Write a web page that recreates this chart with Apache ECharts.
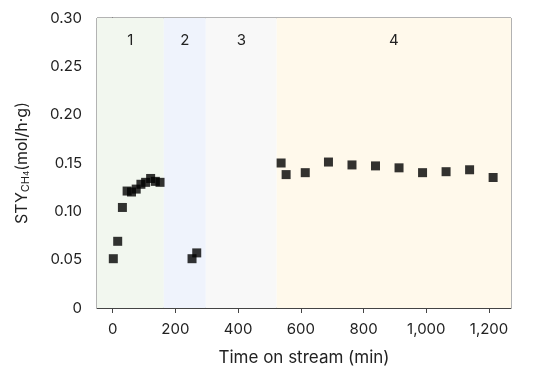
<!DOCTYPE html>
<html><head><meta charset="utf-8">
<script src="https://cdn.jsdelivr.net/npm/echarts@6/dist/echarts.min.js"></script>
<style>html,body{margin:0;padding:0;background:#fff}#c{width:542px;height:371px}</style>
</head><body><div id="c"></div>
<script>
const timeMin = [2,16,31,46,60,75,90,105,121,136,151,253,268,537,553,614,688,763,838,913,988,1063,1138,1213];
const styValues = [0.051,0.069,0.104,0.121,0.120,0.123,0.128,0.130,0.134,0.131,0.130,0.051,0.057,0.150,0.138,0.140,0.151,0.148,0.147,0.145,0.140,0.141,0.143,0.135];
const regionNames = ['1','2','3','4'];
const regionBounds = [[-50,163],[163,297],[297,523],[523,1270]];
const regionColors = ['#f2f7ef','#eff3fc','#f8f8f8','#fff9eb'];
const xTicks = [0,200,400,600,800,1000,1200];

const FONT = 'Inter';
const chart = echarts.init(document.getElementById('c'), null, {renderer:'canvas'});
chart.setOption({
  animation:false,
  grid:{left:97,right:31,top:18,bottom:61,show:true,borderColor:'#666',borderWidth:1,backgroundColor:'transparent'},
  xAxis:{
    type:'value',min:-50,max:1270,
    name:'Time on stream (min)',nameLocation:'middle',nameGap:41,
    nameTextStyle:{fontFamily:FONT,fontSize:17,color:'#222'},
    axisLine:{show:true,onZero:false,lineStyle:{color:'#444'}},
    axisTick:{show:true,length:5,customValues:xTicks,lineStyle:{color:'#444'}},
    axisLabel:{customValues:xTicks,margin:14,fontFamily:FONT,fontSize:15,color:'#222',
      formatter:v=>Number(v).toLocaleString('en-US')},
    splitLine:{show:false}
  },
  yAxis:{
    type:'value',min:0,max:0.3,interval:0.05,
    name:'{n|STY}{s|CH}{ss|4}{n|(mol/h·g)}',nameLocation:'middle',nameGap:66,nameRotate:90,
    nameTextStyle:{rich:{
      n:{fontFamily:FONT,fontSize:16,color:'#222'},
      s:{fontFamily:FONT,fontSize:11,color:'#222',verticalAlign:'bottom',padding:[7,0,0,0]},
      ss:{fontFamily:FONT,fontSize:8,color:'#222',verticalAlign:'bottom',padding:[10,0,0,0]}
    }},
    axisLine:{show:true,lineStyle:{color:'#444'}},
    axisTick:{show:true,length:5,lineStyle:{color:'#444'}},
    axisLabel:{margin:15,fontFamily:FONT,fontSize:15,color:'#222',
      formatter:v=>v===0?'0':v.toFixed(2)},
    splitLine:{show:false}
  },
  series:[{
    type:'scatter',
    symbol:'rect',symbolSize:9,
    itemStyle:{color:'#000'},
    data:timeMin.map((t,i)=>[t,styValues[i]]),
    z:5,
    markArea:{
      silent:true,
      label:{position:'insideTop',distance:15,fontFamily:FONT,fontSize:15,color:'#222'},
      data:regionBounds.map((b,i)=>[
        {name:regionNames[i],xAxis:b[0],itemStyle:{color:regionColors[i]}},
        {xAxis:b[1]}
      ])
    }
  }]
});
</script></body></html>
